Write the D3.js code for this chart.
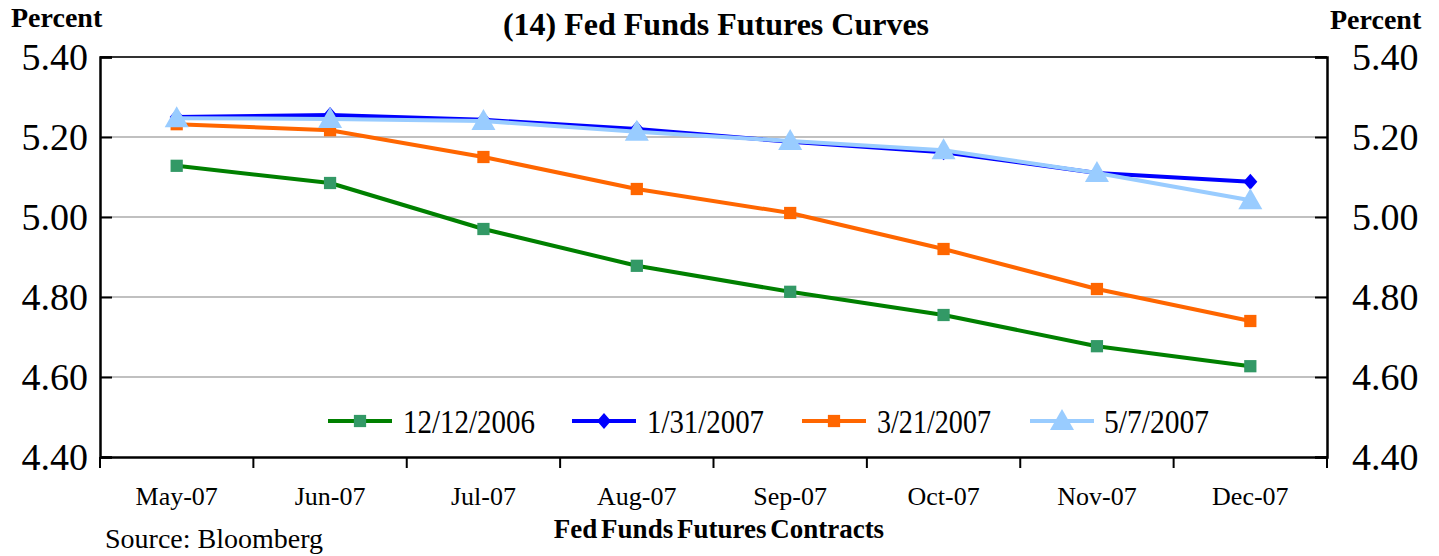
<!DOCTYPE html>
<html><head><meta charset="utf-8">
<script src="https://cdn.jsdelivr.net/npm/d3@7"></script>
<style>body{margin:0;background:#fff;} svg{display:block;font-family:"Liberation Serif","Times New Roman",serif;}</style>
</head><body>
<svg id="c" width="1439" height="556"></svg>
<script>
const categories = ["May-07","Jun-07","Jul-07","Aug-07","Sep-07","Oct-07","Nov-07","Dec-07"];
const s1212 = [5.128,5.085,4.970,4.878,4.813,4.755,4.677,4.627];
const s0131 = [5.250,5.255,5.243,5.220,5.188,5.162,5.110,5.088];
const s0321 = [5.232,5.217,5.150,5.070,5.010,4.920,4.820,4.740];
const s0507 = [5.247,5.245,5.240,5.213,5.190,5.167,5.110,5.042];
const seriesNames = ["12/12/2006","1/31/2007","3/21/2007","5/7/2007"];
const yTicks = [4.40,4.60,4.80,5.00,5.20,5.40];

const svg = d3.select("#c");
const L=100,R=1327,T=57,B=457;
const x = d3.scalePoint().domain(categories).range([L,R]).padding(0.5);
const xb = d3.scaleBand().domain(categories).range([L,R]);
const y = d3.scaleLinear().domain([4.40,5.40]).range([B,T]);

// gridlines
svg.append("g").selectAll("line").data(yTicks.filter(d=>d>4.41&&d<5.39)).join("line")
  .attr("x1",L).attr("x2",R).attr("y1",d=>y(d)).attr("y2",d=>y(d))
  .attr("stroke","#c0c0c0").attr("stroke-width",2);
svg.append("line").attr("x1",L).attr("x2",R).attr("y1",y(5.40)).attr("y2",y(5.40)).attr("stroke","#333").attr("stroke-width",2);

// axes
const fmt = d3.format(".2f");
const gl = svg.append("g").attr("transform",`translate(${L},0)`).call(d3.axisLeft(y).tickValues(yTicks).tickSize(-12).tickPadding(12).tickFormat(fmt));
const gr = svg.append("g").attr("transform",`translate(${R},0)`).call(d3.axisRight(y).tickValues(yTicks).tickSize(-12).tickPadding(25).tickFormat(fmt));
[gl,gr].forEach(g=>{g.attr("font-family","Liberation Serif");
  g.select(".domain").attr("stroke","#000").attr("stroke-width",2.5);
  g.selectAll(".tick line").attr("stroke","#000").attr("stroke-width",2);
  g.selectAll("text").attr("font-family","Liberation Serif").attr("font-size",38).attr("fill","#000").attr("dy","0.33em");});
const gb = svg.append("g").attr("transform",`translate(0,${B})`).attr("font-family","Liberation Serif").call(d3.axisBottom(xb).tickSize(0).tickPadding(30));
gb.select(".domain").attr("stroke","#000").attr("stroke-width",2.5);
gb.selectAll("text").attr("font-family","Liberation Serif").attr("font-size",26).attr("fill","#000");
svg.append("g").selectAll("line").data(categories.map(c=>xb(c)).concat([R])).join("line")
  .attr("x1",d=>d).attr("x2",d=>d).attr("y1",B).attr("y2",B+11).attr("stroke","#000").attr("stroke-width",2);

// series
const series = [
  {name:seriesNames[0], vals:s1212, line:"#008000", mark:"#339966", shape:"square"},
  {name:seriesNames[1], vals:s0131, line:"#0000ff", mark:"#0000ff", shape:"diamond"},
  {name:seriesNames[2], vals:s0321, line:"#ff6600", mark:"#ff6600", shape:"square"},
  {name:seriesNames[3], vals:s0507, line:"#99ccff", mark:"#99ccff", shape:"triangle"}
];
const sym = {square:d3.symbol().type(d3.symbolSquare).size(150)(),
  diamond:"M0,-8L7,0L0,8L-7,0Z",
  triangle:"M0,-12L12,9L-12,9Z"};
const line = d3.line().x((d,i)=>x(categories[i])).y(d=>y(d));
series.forEach(s=>{
  svg.append("path").attr("d",line(s.vals)).attr("fill","none").attr("stroke",s.line).attr("stroke-width",4).attr("stroke-linejoin","round");
  svg.append("g").selectAll("path").data(s.vals).join("path")
    .attr("transform",(d,i)=>`translate(${x(categories[i])},${y(d)})`).attr("d",sym[s.shape]).attr("fill",s.mark);
});

// legend
const legX = [328,572,802,1030];
const legW = [132,117,114,105];
const ly = 421;
series.forEach((s,i)=>{
  const g = svg.append("g").attr("transform",`translate(${legX[i]},${ly})`);
  g.append("line").attr("x1",0).attr("x2",64).attr("stroke",s.line).attr("stroke-width",4);
  g.append("path").attr("transform","translate(32,0)").attr("d",sym[s.shape]).attr("fill",s.mark);
  g.append("text").attr("x",i===3?74:75).attr("y",12).attr("font-size",34).attr("textLength",legW[i]).attr("lengthAdjust","spacingAndGlyphs").text(s.name);
});

// titles
svg.append("text").attr("x",716).attr("y",35).attr("text-anchor","middle").attr("font-weight","bold").attr("font-size",32).text("(14) Fed Funds Futures Curves");
svg.append("text").attr("x",11).attr("y",27).attr("font-weight","bold").attr("font-size",28).text("Percent");
svg.append("text").attr("x",1330).attr("y",29).attr("font-weight","bold").attr("font-size",28).text("Percent");
svg.append("text").attr("x",719).attr("y",538).attr("text-anchor","middle").attr("font-weight","bold").attr("font-size",27).attr("word-spacing",-3).text("Fed Funds Futures Contracts");
svg.append("text").attr("x",105).attr("y",548).attr("font-size",28).text("Source: Bloomberg");
</script>
</body></html>
